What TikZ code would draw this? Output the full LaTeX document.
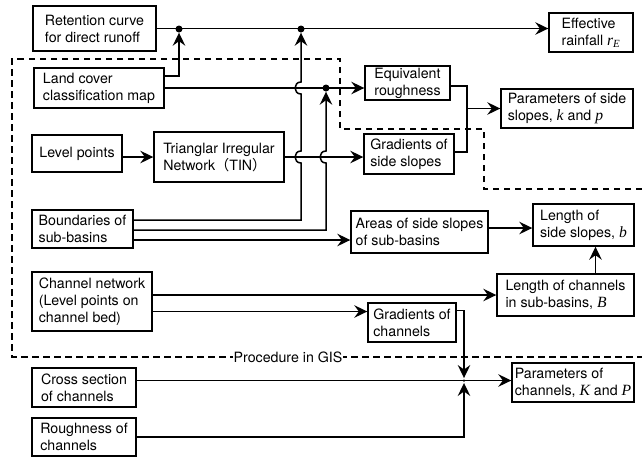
\documentclass[tikz,border=0pt]{standalone}
\usepackage{fontspec}
\setmainfont{TeX Gyre Heros}
\newfontfamily\varfont{Liberation Serif}[Scale=1.1]
\newfontfamily\cjkfont{Noto Sans CJK JP}
\newcommand{\vname}[1]{{\varfont\itshape #1}}
\usetikzlibrary{arrows.meta}

\begin{document}
\begin{tikzpicture}
        [x=1pt, y=-1pt,
         box_style/.style={draw=black, line width=1.4pt, align=left, inner sep=0pt,
                           font=\fontsize{14.2}{17}\selectfont},
         dot_style/.style={circle, fill=black, inner sep=0pt, minimum size=7pt},
         junction_style/.style={circle, fill=black, inner sep=0pt, minimum size=2.5pt},
         edge_style/.style={draw=black, line width=1.5pt},
         arrow_style/.style={edge_style, -{Stealth[length=13pt, width=12.5pt, inset=4.5pt]}},
         hop_style/.style={out=180, in=180, looseness=1.7},
         gis_style/.style={draw=black, line width=2pt, dash pattern=on 6.5pt off 4.5pt}]
            \useasboundingbox (0,0) rectangle (642,459);
            % GIS region
            \draw[gis_style] (642,189) -- (484,189) -- (484,129) -- (340,129) -- (340,59)
                -- (12,59) -- (12,357) -- (642,357);
            \node[fill=white, inner xsep=1pt, inner ysep=0pt, font=\fontsize{14.2}{17}\selectfont] (gis) at (288,357) {Procedure in GIS};
            % boxes
            \node[box_style, minimum width=123pt, minimum height=45pt] (ret) at (94.5,28.5) {Retention curve\\for direct runoff};
            \node[box_style, minimum width=84pt, minimum height=39pt] (eff) at (591,32.5) {Effective\\rainfall \vname{r}\textsubscript{\vname{E}}};
            \node[box_style, minimum width=130pt, minimum height=40pt] (lc) at (99,88) {Land cover\\classification map};
            \node[box_style, minimum width=85pt, minimum height=34pt] (eq) at (407.5,83) {Equivalent\\roughness};
            \node[box_style, minimum width=132pt, minimum height=39pt] (pss) at (567,108.5) {Parameters of side\\slopes, \vname{k} and \vname{p}};
            \node[box_style, minimum width=90pt, minimum height=37pt] (lvl) at (77,153.5) {Level points};
            \node[box_style, minimum width=130pt, minimum height=50pt] (tin) at (219,157) {Trianglar Irregular\\Network{\cjkfont （}TIN{\cjkfont ）}};
            \node[box_style, minimum width=90pt, minimum height=40pt] (gss) at (409,154) {Gradients of\\side slopes};
            \node[box_style, minimum width=101pt, minimum height=38pt] (bnd) at (82.5,229) {Boundaries of\\sub-basins};
            \node[box_style, minimum width=137pt, minimum height=42pt] (area) at (419.5,232) {Areas of side slopes\\of sub-basins};
            \node[box_style, minimum width=101pt, minimum height=42pt] (lss) at (583.5,225) {Length of\\side slopes, \vname{b}};
            \node[box_style, minimum width=120pt, minimum height=59pt] (cn) at (92,301.5) {Channel network\\(Level points on\\channel bed)};
            \node[box_style, minimum width=137pt, minimum height=42pt] (lcb) at (565.5,295) {Length of channels\\in sub-basins, \vname{B}};
            \node[box_style, minimum width=88pt, minimum height=39pt] (gc) at (412,322.5) {Gradients of\\channels};
            \node[box_style, minimum width=104pt, minimum height=39pt] (cs) at (84,387.5) {Cross section\\of channels};
            \node[box_style, minimum width=104pt, minimum height=38pt] (rc) at (84,437) {Roughness of\\channels};
            \node[box_style, minimum width=122pt, minimum height=39pt] (pc) at (573,382.5) {Parameters of\\channels, \vname{K} and \vname{P}};
            % junctions
            \node[dot_style] (d1) at (179,29) {};
            \node[dot_style] (d2) at (301,29) {};
            \node[dot_style] (d3) at (326,88) {};
            \node[junction_style] (j2) at (464,380.5) {};
            \coordinate (j1) at (467,108.5);
            \coordinate (h1) at (301,88);
            \coordinate (h2) at (301,157);
            \coordinate (h3) at (326,157);
            % connectors
            \draw[arrow_style] (ret.east) -- (ret.east -| eff.west);
            \draw[arrow_style] ([yshift=12pt]lc.east) -| (d1);
            \draw[arrow_style] (lc.east) -- (lc.east -| eq.west);
            \draw[arrow_style] (lvl.east |- tin.west) -- (tin.west);
            \draw[arrow_style] (tin.east) -- (tin.east -| gss.west);
            \draw[arrow_style] ([yshift=9pt]bnd.east) -| ([yshift=-6pt]h2) to[hop_style] ([yshift=6pt]h2)
                -- ([yshift=-6pt]h1) to[hop_style] ([yshift=6pt]h1) -- (d2);
            \draw[arrow_style] ([yshift=-1pt]bnd.east) -| ([yshift=-6pt]h3) to[hop_style] ([yshift=6pt]h3) -- (d3);
            \draw[arrow_style] ([yshift=-11pt]bnd.east) -- ([yshift=-11pt]bnd.east -| area.west);
            \draw[edge_style] ([yshift=-3pt]eq.east) -| (j1);
            \draw[edge_style] ([yshift=2pt]gss.east) -| (j1);
            \draw[arrow_style] (j1) -- (pss.west);
            \draw[arrow_style] ([yshift=4pt]area.east) -- ([yshift=4pt]area.east -| lss.west);
            \draw[arrow_style] ([xshift=30pt]lcb.north) -- ([xshift=30pt]lcb.north |- lss.south);
            \draw[arrow_style] (cn.east |- lcb.west) -- (lcb.west);
            \draw[arrow_style] ([yshift=-10pt]cn.east) -- ([yshift=-10pt]cn.east -| gc.west);
            \draw[arrow_style, shorten >=1pt] ([yshift=12pt]gc.east) -| (j2);
            \draw[arrow_style] ([yshift=7pt]cs.east) -- ([yshift=7pt]cs.east -| pc.west);
            \draw[arrow_style, shorten >=1pt] (rc.east) -| (j2);
        \end{tikzpicture}
\end{document}
